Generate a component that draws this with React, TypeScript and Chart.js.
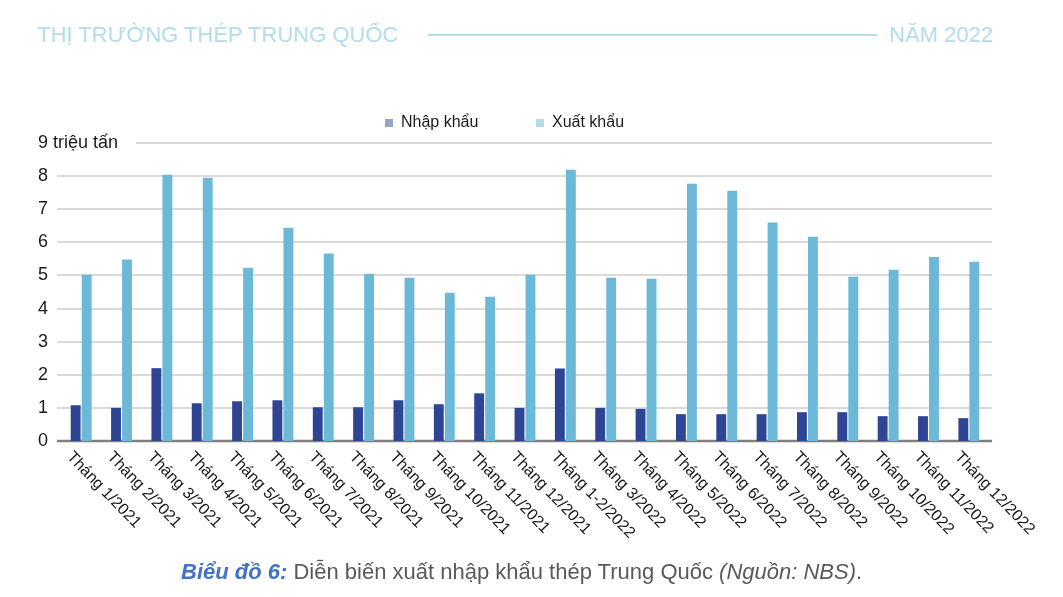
import { useEffect, useRef } from 'react';
import { Chart, registerables } from 'chart.js';

Chart.register(...registerables);

const months = [
  'Tháng 1/2021', 'Tháng 2/2021', 'Tháng 3/2021', 'Tháng 4/2021', 'Tháng 5/2021', 'Tháng 6/2021',
  'Tháng 7/2021', 'Tháng 8/2021', 'Tháng 9/2021', 'Tháng 10/2021', 'Tháng 11/2021', 'Tháng 12/2021',
  'Tháng 1-2/2022', 'Tháng 3/2022', 'Tháng 4/2022', 'Tháng 5/2022', 'Tháng 6/2022', 'Tháng 7/2022',
  'Tháng 8/2022', 'Tháng 9/2022', 'Tháng 10/2022', 'Tháng 11/2022', 'Tháng 12/2022',
];
const importValues = [
  1.08, 1.0, 2.2, 1.14, 1.2, 1.23, 1.02, 1.02, 1.23, 1.11, 1.44, 1.0,
  2.19, 1.0, 0.97, 0.81, 0.81, 0.81, 0.87, 0.87, 0.75, 0.75, 0.69,
];
const exportValues = [
  5.02, 5.48, 8.04, 7.95, 5.23, 6.44, 5.66, 5.05, 4.93, 4.48, 4.36, 5.02,
  8.19, 4.93, 4.9, 7.77, 7.56, 6.6, 6.17, 4.96, 5.17, 5.56, 5.41,
];
const seriesNames = ['Nhập khẩu', 'Xuất khẩu'];
const yMax = 9;
const yUnit = 'triệu tấn';

const FONT = '"Liberation Sans", Arial, sans-serif';
const IMPORT_COLOR = '#2e4593';
const EXPORT_COLOR = '#6bb9d6';
const HEADER_COLOR = '#b5dde9';
const TEXT_COLOR = '#1a1a1a';

// Excel-style plot: gridlines run a few px past the category band,
// and the top one stops after the "9 triệu tấn" label
const gridAndUnit = {
  id: 'gridAndUnit',
  beforeDatasetsDraw(chart: Chart) {
    const { ctx, chartArea } = chart;
    const y = chart.scales.y;
    const left = chartArea.left - 4;
    const right = chartArea.right + 3;
    ctx.save();
    ctx.font = `18px ${FONT}`;
    const labelStart = y.left;
    const unitX = labelStart + ctx.measureText(`${yMax} `).width;
    const unitEnd = labelStart + ctx.measureText(`${yMax} ${yUnit}`).width;

    ctx.strokeStyle = '#d9d9d9';
    ctx.lineWidth = 2;
    y.ticks.forEach((t) => {
      if (t.value === 0) return;
      const py = Math.round(y.getPixelForValue(t.value));
      ctx.beginPath();
      ctx.moveTo(t.value === yMax ? unitEnd + 18 : left, py);
      ctx.lineTo(right, py);
      ctx.stroke();
    });

    // axis line
    const py0 = Math.round(y.getPixelForValue(0));
    ctx.strokeStyle = '#7f7f7f';
    ctx.lineWidth = 2.5;
    ctx.beginPath();
    ctx.moveTo(left, py0);
    ctx.lineTo(right, py0);
    ctx.stroke();

    ctx.fillStyle = TEXT_COLOR;
    ctx.textAlign = 'left';
    ctx.textBaseline = 'middle';
    ctx.fillText(yUnit, unitX, y.getPixelForValue(yMax));
    ctx.restore();
  },
};

// x labels run clockwise (down-right), which chart.js ticks can't do
const slantedLabels = {
  id: 'slantedLabels',
  afterDraw(chart: Chart) {
    const { ctx, chartArea } = chart;
    const x = chart.scales.x;
    ctx.save();
    ctx.font = `16px ${FONT}`;
    ctx.fillStyle = TEXT_COLOR;
    ctx.textAlign = 'left';
    ctx.textBaseline = 'top';
    months.forEach((m, i) => {
      ctx.save();
      ctx.translate(x.getPixelForValue(i) - 6, chartArea.bottom + 8);
      ctx.rotate((46 * Math.PI) / 180);
      ctx.fillText(m, 0, 0);
      ctx.restore();
    });
    ctx.restore();
  },
};

function SteelChart() {
  const canvasRef = useRef<HTMLCanvasElement>(null);
  const chartRef = useRef<Chart | null>(null);

  useEffect(() => {
    if (!canvasRef.current) return;
    chartRef.current?.destroy();

    chartRef.current = new Chart(canvasRef.current, {
      type: 'bar',
      data: {
        labels: months,
        datasets: [
          { label: seriesNames[0], data: importValues, backgroundColor: IMPORT_COLOR },
          { label: seriesNames[1], data: exportValues, backgroundColor: EXPORT_COLOR },
        ],
      },
      options: {
        animation: false,
        responsive: true,
        maintainAspectRatio: false,
        layout: { padding: { top: 143, left: 38, right: 74, bottom: 46 } },
        datasets: { bar: { barPercentage: 0.9, categoryPercentage: 0.545, borderWidth: 0 } },
        plugins: {
          legend: { display: false },
          tooltip: { enabled: false },
        },
        scales: {
          x: {
            grid: { display: false },
            border: { display: false },
            ticks: { display: false },
            afterFit: (s: any) => { s.height = 110; },
          },
          y: {
            min: 0,
            max: yMax,
            grid: { display: false },
            border: { display: false },
            afterFit: (s: any) => { s.width = 23; },
            ticks: {
              stepSize: 1,
              crossAlign: 'far',
              color: TEXT_COLOR,
              font: { size: 18, family: FONT },
            },
          },
        },
      },
      plugins: [gridAndUnit, slantedLabels],
    });

    return () => {
      chartRef.current?.destroy();
      chartRef.current = null;
    };
  }, []);

  return (
    <div style={{ position: 'absolute', inset: 0 }}>
      <canvas ref={canvasRef} />
    </div>
  );
}

export default function App() {
  const legendItem = (name: string, color: string, left: number) => (
    <div style={{ position: 'absolute', left, top: 113, display: 'flex', alignItems: 'center', fontSize: 16, color: TEXT_COLOR, lineHeight: '18px' }}>
      <span style={{ width: 8, height: 8, background: color, marginRight: 8, marginTop: 2 }} />
      {name}
    </div>
  );

  return (
    <div style={{ position: 'absolute', left: 0, top: 0, width: 1063, height: 597, background: '#fff', fontFamily: FONT }}>
      <div style={{ position: 'absolute', left: 37, top: 21, fontSize: 22, color: HEADER_COLOR, lineHeight: '28px' }}>
        THỊ TRƯỜNG THÉP TRUNG QUỐC
      </div>
      <div style={{ position: 'absolute', left: 428, top: 34, width: 449, height: 2, background: HEADER_COLOR }} />
      <div style={{ position: 'absolute', right: 70, top: 21, fontSize: 22, color: HEADER_COLOR, lineHeight: '28px' }}>
        NĂM 2022
      </div>

      <SteelChart />

      {legendItem(seriesNames[0], '#95a3c7', 385)}
      {legendItem(seriesNames[1], '#b4dde9', 536)}

      <div style={{ position: 'absolute', left: 181, top: 559, fontSize: 22, color: '#595959', lineHeight: '26px', whiteSpace: 'nowrap' }}>
        <b style={{ fontStyle: 'italic', color: '#4472c4' }}>Biểu đồ 6:</b> Diễn biến xuất nhập khẩu thép Trung Quốc <i>(Nguồn: NBS)</i>.
      </div>
    </div>
  );
}
